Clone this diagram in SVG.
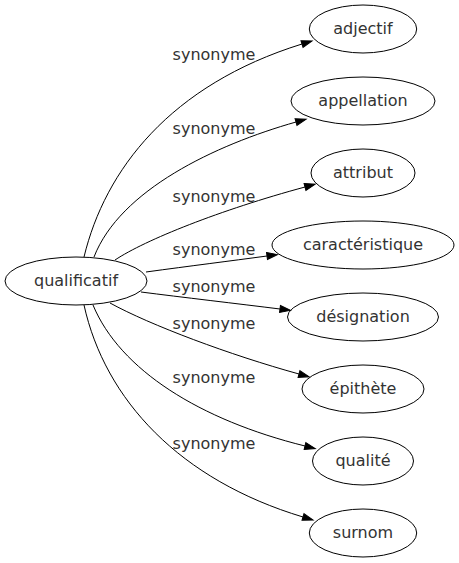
<svg xmlns="http://www.w3.org/2000/svg" width="459" height="563" viewBox="0 0 459 563">
<style>
.node ellipse{fill:none;stroke:#000;stroke-width:1}
.node text{font-family:"DejaVu Sans",sans-serif;font-size:16px;fill:#333;text-anchor:middle}
.edge path{fill:none;stroke:#000;stroke-width:1}
.edge text{font-family:"DejaVu Sans",sans-serif;font-size:16px;fill:#333;text-anchor:middle}
</style>
<defs>
<marker id="arr" markerUnits="userSpaceOnUse" markerWidth="12" markerHeight="10" refX="0" refY="5" orient="auto" viewBox="0 0 12 10" overflow="visible">
<path d="M0,1.5 L10.5,5 L0,8.5 z" fill="#000" stroke="#000" stroke-width="1"/>
</marker>
</defs>
<rect width="459" height="563" fill="#fff"/>
<g id="edges" class="edge">
<path d="M84,257 C105,170 170,85 302,44" marker-end="url(#arr)"/>
<text x="214" y="60">synonyme</text>
<path d="M94,257 C120,190 215,145 296,122" marker-end="url(#arr)"/>
<text x="214" y="134">synonyme</text>
<path d="M115,260 C145,240 220,210 305,187" marker-end="url(#arr)"/>
<text x="214" y="202">synonyme</text>
<path d="M146,272 C190,266 230,261 267,256" marker-end="url(#arr)"/>
<text x="214" y="255">synonyme</text>
<path d="M141,292 C180,297 240,304 280,309" marker-end="url(#arr)"/>
<text x="214" y="292">synonyme</text>
<path d="M110,303 C150,325 230,355 299,374" marker-end="url(#arr)"/>
<text x="214" y="329">synonyme</text>
<path d="M93,305 C120,370 200,420 305,446" marker-end="url(#arr)"/>
<text x="214" y="383">synonyme</text>
<path d="M84,305 C105,400 180,480 303,517" marker-end="url(#arr)"/>
<text x="214" y="449">synonyme</text>
</g>
<g id="qualificatif" class="node"><ellipse cx="76" cy="281" rx="71" ry="24"/><text x="76" y="286">qualificatif</text></g>
<g id="adjectif" class="node"><ellipse cx="363" cy="29" rx="53.7" ry="24"/><text x="363" y="34">adjectif</text></g>
<g id="appellation" class="node"><ellipse cx="363" cy="101" rx="72" ry="24"/><text x="363" y="106">appellation</text></g>
<g id="attribut" class="node"><ellipse cx="363" cy="173" rx="52" ry="24"/><text x="363" y="178">attribut</text></g>
<g id="caracteristique" class="node"><ellipse cx="363" cy="245" rx="91" ry="24"/><text x="363" y="250">caractéristique</text></g>
<g id="designation" class="node"><ellipse cx="363" cy="317" rx="75.5" ry="24"/><text x="363" y="322">désignation</text></g>
<g id="epithete" class="node"><ellipse cx="363" cy="389" rx="61" ry="24"/><text x="363" y="394">épithète</text></g>
<g id="qualite" class="node"><ellipse cx="363" cy="461" rx="50.5" ry="24"/><text x="363" y="466">qualité</text></g>
<g id="surnom" class="node"><ellipse cx="363" cy="533" rx="53.7" ry="24"/><text x="363" y="538">surnom</text></g>
</svg>
